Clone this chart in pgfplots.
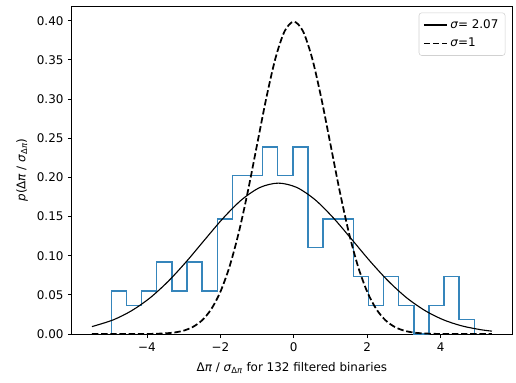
\documentclass[border=0pt]{standalone}
\usepackage{fontspec}
\setmainfont{DejaVu Sans}
\usepackage{pgfplots}
\pgfplotsset{compat=1.18}
\definecolor{mplblue}{HTML}{1F77B4}
\newcommand{\ii}[1]{{\itshape #1}}
\begin{document}
\begin{tikzpicture}
\begin{axis}[
  scale only axis,
  width=316.8pt, height=236.2pt,
  xmin=-6.045, xmax=5.945,
  ymin=0, ymax=0.4189,
  axis line style={line width=0.67pt},
  tick align=outside, tick pos=left,
  major tick length=2.9pt,
  tick style={line width=0.67pt, black},
  xtick={-4,-2,0,2,4},
  xticklabels={−4,−2,0,2,4},
  ytick={0,0.05,0.10,0.15,0.20,0.25,0.30,0.35,0.40},
  yticklabel style={inner sep=3pt, /pgf/number format/fixed, /pgf/number format/fixed zerofill, /pgf/number format/precision=2, /pgf/number format/assume math mode=true},
  xticklabel style={inner sep=3pt},
  scaled y ticks=false,
  tick label style={font=\fontsize{8.6}{10}\selectfont},
  xlabel={Δ\ii{π} / \ii{σ}\textsubscript{Δ\ii{π}} for 132 filtered binaries},
  ylabel={\ii{p}(Δ\ii{π} / \ii{σ}\textsubscript{Δ\ii{π}})},
  every axis y label/.style={at={(ticklabel cs:0.5)}, rotate=90, anchor=south, inner sep=3.3pt},
  every axis x label/.style={at={(ticklabel cs:0.5)}, anchor=north, inner sep=4.5pt},
  label style={font=\fontsize{8.6}{10}\selectfont},
  legend style={at={(0.985,0.98)}, anchor=north east, draw=black!18, rounded corners=2pt,
    font=\fontsize{8.6}{10}\selectfont, inner sep=2.8pt, row sep=1.5pt, cells={anchor=west}},
  legend image code/.code={\draw[#1] (0pt,0pt) -- (16.6pt,0pt);},
]
\addplot[mplblue!90, line width=1pt, const plot mark left, forget plot] coordinates {
(-4.970,0) (-4.970,0.0552) (-4.558,0.0368) (-4.146,0.0552) (-3.734,0.0919)
(-3.322,0.0552) (-2.910,0.0919) (-2.498,0.0552) (-2.086,0.1471) (-1.674,0.2023)
(-1.262,0.2023) (-0.850,0.2390) (-0.438,0.2023) (-0.026,0.2390) (0.386,0.1103)
(0.798,0.1471) (1.210,0.1471) (1.622,0.0736) (2.034,0.0368) (2.446,0.0736)
(2.858,0.0368) (3.270,0) (3.682,0.0368) (4.094,0.0736) (4.506,0.0184) (4.918,0)
};
\addplot[black, line width=0.8pt, smooth] coordinates {
(-5.50,0.0095) (-4.92,0.0181) (-4.42,0.0298) (-3.92,0.0461) (-3.42,0.0674)
(-2.92,0.0929) (-2.42,0.1208) (-1.92,0.1482) (-1.42,0.1715) (-0.92,0.1872)
(-0.42,0.1927) (0.08,0.1872) (0.58,0.1715) (1.08,0.1482) (1.58,0.1208)
(2.08,0.0929) (2.58,0.0674) (3.08,0.0461) (3.58,0.0298) (4.08,0.0181)
(4.58,0.0104) (5.08,0.00565) (5.40,0.0037)
};
\addlegendentry{\ii{σ}= 2.07}
\addplot[black, line width=1.25pt, dash pattern=on 4.6pt off 2pt, smooth] coordinates {
(-5.5,0) (-5.0,0) (-4.5,0) (-4.0,0.0001) (-3.75,0.0004) (-3.5,0.0009) (-3.25,0.0020)
(-3.0,0.0044) (-2.75,0.0091) (-2.5,0.0175) (-2.25,0.0317) (-2.0,0.0540)
(-1.75,0.0863) (-1.5,0.1295) (-1.25,0.1826) (-1.0,0.2420) (-0.75,0.3011)
(-0.5,0.3521) (-0.25,0.3867) (0,0.3989) (0.25,0.3867) (0.5,0.3521)
(0.75,0.3011) (1.0,0.2420) (1.25,0.1826) (1.5,0.1295) (1.75,0.0863)
(2.0,0.0540) (2.25,0.0317) (2.5,0.0175) (2.75,0.0091) (3.0,0.0044)
(3.25,0.0020) (3.5,0.0009) (3.75,0.0004) (4.0,0.0001) (4.5,0) (5.0,0) (5.4,0)
};
\addlegendentry{\ii{σ}=1}
\end{axis}
\path (current axis.south west) ++(-51.8pt,-34.6pt);
\path (current axis.north east) ++(2.9pt,4.3pt);
\end{tikzpicture}
\end{document}
